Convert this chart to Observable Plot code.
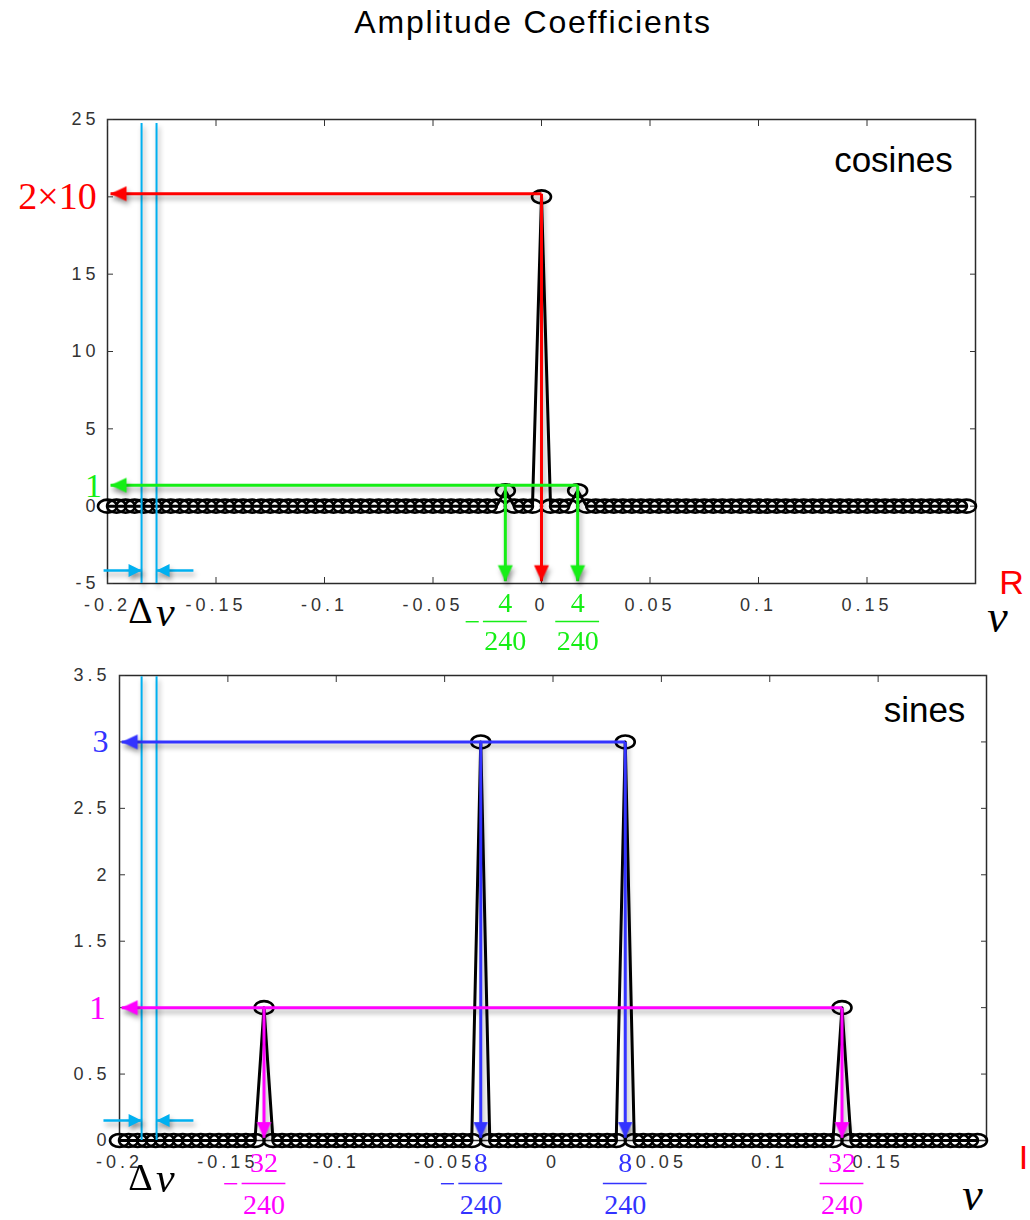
<!DOCTYPE html>
<html>
<head>
<meta charset="utf-8">
<script src="https://cdn.jsdelivr.net/npm/d3@7"></script>
<script src="https://cdn.jsdelivr.net/npm/@observablehq/plot@0.6"></script>
<style>
  body { margin: 0; background: #fff; }
  #wrap { position: relative; width: 1030px; height: 1220px; overflow: hidden; background: #fff; }
  #title { position: absolute; top: 6px; left: 18px; width: 1030px; text-align: center;
           font: 32px "Liberation Sans", Arial, sans-serif; letter-spacing: 1.8px; line-height: 32px; color: #000; }
  .panel { position: absolute; left: 0; }
  g[aria-label="x-axis tick label"] text, g[aria-label="y-axis tick label"] text { letter-spacing: 4px; font-size: 18px; }
  g[aria-description="annot"] { filter: drop-shadow(2px 4px 2.5px rgba(0,0,0,0.33)); }
</style>
</head>
<body>
<div id="wrap">
  <div id="title">Amplitude Coefficients</div>
  <div id="p1" class="panel" style="top:70px"></div>
  <div id="p2" class="panel" style="top:660px"></div>
</div>
<script>
// ---------- data ----------
const T = 240;                          // record length: frequencies are k / T
const kIndex = d3.range(-48, 48);       // harmonic index k = -48 ... 47
const cosAmp = [
  0,0,0,0,0,0,0,0,0,0,0,0,
  0,0,0,0,0,0,0,0,0,0,0,0,
  0,0,0,0,0,0,0,0,0,0,0,0,
  0,0,0,0,0,0,0,0,1,0,0,0,
  20,0,0,0,1,0,0,0,0,0,0,0,
  0,0,0,0,0,0,0,0,0,0,0,0,
  0,0,0,0,0,0,0,0,0,0,0,0,
  0,0,0,0,0,0,0,0,0,0,0,0
];
const sinAmp = [
  0,0,0,0,0,0,0,0,0,0,0,0,
  0,0,0,0,1,0,0,0,0,0,0,0,
  0,0,0,0,0,0,0,0,0,0,0,0,
  0,0,0,0,3,0,0,0,0,0,0,0,
  0,0,0,0,0,0,0,0,3,0,0,0,
  0,0,0,0,0,0,0,0,0,0,0,0,
  0,0,0,0,0,0,0,0,1,0,0,0,
  0,0,0,0,0,0,0,0,0,0,0,0
];
const xTicks = [-0.2, -0.15, -0.1, -0.05, 0, 0.05, 0.1, 0.15];
const cosYTicks = [-5, 0, 5, 10, 15, 20, 25];
const cosYLabels = [-5, 0, 5, 10, 15, 25];
const sinYTicks = [0, 0.5, 1, 1.5, 2, 2.5, 3, 3.5];
const sinYLabels = [0, 0.5, 1.5, 2, 2.5, 3.5];

// ---------- annotations ----------
const RED = "#ff0000", GREEN = "#16ee16", BLUE = "#3333ff", MAGENTA = "#ff00ff", CYAN = "#00b0f0";

const cosArrows = [
  {x1: 0, y1: 20.2, x2: -0.1986, y2: 20.2, color: RED, dir: "left"},
  {x1: 0, y1: 20.2, x2: 0, y2: -4.85, color: RED, dir: "down"},
  {x1: 4 / T, y1: 1.35, x2: -0.1986, y2: 1.35, color: GREEN, dir: "left"},
  {x1: -4 / T, y1: 1.35, x2: -4 / T, y2: -4.85, color: GREEN, dir: "down"},
  {x1: 4 / T, y1: 1.35, x2: 4 / T, y2: -4.85, color: GREEN, dir: "down"}
];
const sinArrows = [
  {x1: 8 / T, y1: 3, x2: -0.199, y2: 3, color: BLUE, dir: "left"},
  {x1: -8 / T, y1: 3, x2: -8 / T, y2: 0.02, color: BLUE, dir: "down"},
  {x1: 8 / T, y1: 3, x2: 8 / T, y2: 0.02, color: BLUE, dir: "down"},
  {x1: 32 / T, y1: 1, x2: -0.199, y2: 1, color: MAGENTA, dir: "left"},
  {x1: -32 / T, y1: 1, x2: -32 / T, y2: 0.02, color: MAGENTA, dir: "down"},
  {x1: 32 / T, y1: 1, x2: 32 / T, y2: 0.02, color: MAGENTA, dir: "down"}
];
const cosCyanLines = [{x: -0.1843, y1: 24.74, y2: -5}, {x: -0.1774, y1: 24.74, y2: -5}];
const cosCyanArrows = [
  {x1: -0.2018, y1: -4.16, x2: -0.1843, y2: -4.16, dir: "right"},
  {x1: -0.1604, y1: -4.16, x2: -0.1774, y2: -4.16, dir: "left"}
];
const sinCyanLines = [{x: -0.1898, y1: 3.49, y2: 0}, {x: -0.1829, y1: 3.49, y2: 0}];
const sinCyanArrows = [
  {x1: -0.2074, y1: 0.151, x2: -0.1898, y2: 0.151, dir: "right"},
  {x1: -0.1659, y1: 0.151, x2: -0.1829, y2: 0.151, dir: "left"}
];

const SERIF = "Liberation Serif, Times New Roman, serif";
const SANS = "Liberation Sans, Arial, sans-serif";
const cosTexts = [
  {x: -0.223, y: 20.0, text: "2×10", color: RED, size: 38, font: SERIF},
  {x: -0.2065, y: 1.3, text: "1", color: GREEN, size: 34, font: SERIF},
  {x: 0.1622, y: 22.35, text: "cosines", color: "#000", size: 35, font: SANS},
  {x: -0.1848, y: -6.75, text: "Δ", color: "#000", size: 38, font: SERIF},
  {x: -0.1733, y: -6.9, text: "ν", color: "#000", size: 42, font: SERIF, italic: true},
  {x: 0.2101, y: -7.2, text: "ν", color: "#000", size: 46, font: SERIF, italic: true},
  {x: 0.2166, y: -5.0, text: "R", color: RED, size: 34, font: SANS}
];
const sinTexts = [
  {x: -0.2088, y: 3.0, text: "3", color: BLUE, size: 32, font: SERIF},
  {x: -0.2102, y: 1.0, text: "1", color: MAGENTA, size: 34, font: SERIF},
  {x: 0.1714, y: 3.237, text: "sines", color: "#000", size: 35, font: SANS},
  {x: -0.1903, y: -0.278, text: "Δ", color: "#000", size: 38, font: SERIF},
  {x: -0.1788, y: -0.29, text: "ν", color: "#000", size: 42, font: SERIF, italic: true},
  {x: 0.1935, y: -0.414, text: "ν", color: "#000", size: 46, font: SERIF, italic: true},
  {x: 0.2171, y: -0.135, text: "I", color: RED, size: 34, font: SANS}
];
const cosFracs = [{k: -4, color: GREEN}, {k: 4, color: GREEN}];
const sinFracs = [{k: -32, color: MAGENTA}, {k: -8, color: BLUE}, {k: 8, color: BLUE}, {k: 32, color: MAGENTA}];
const cosFracY = {num: -6.29, bar: -7.46, den: -8.75, half: 0.0101};
const sinFracY = {num: -0.173, bar: -0.324, den: -0.482, half: 0.0101};

// ---------- drawing ----------
const ellipse = {
  draw(ctx, size) {
    const r = Math.sqrt(size / Math.PI), rx = r * 1.46, ry = r * 1.0, c = 0.5523;
    ctx.moveTo(rx, 0);
    ctx.bezierCurveTo(rx, c * ry, c * rx, ry, 0, ry);
    ctx.bezierCurveTo(-c * rx, ry, -rx, c * ry, -rx, 0);
    ctx.bezierCurveTo(-rx, -c * ry, -c * rx, -ry, 0, -ry);
    ctx.bezierCurveTo(c * rx, -ry, rx, -c * ry, rx, 0);
    ctx.closePath();
  }
};
const head = (L, W) => ({
  draw(ctx) { ctx.moveTo(0, 0); ctx.lineTo(-W / 2, L); ctx.lineTo(W / 2, L); ctx.closePath(); }
});
const ROT = {left: -90, right: 90, down: 180, up: 0};
const fmt = d => String(d);

function panel(o) {
  const data = kIndex.map((k, i) => ({nu: k / T, amp: o.amp[i]}));
  const marks = [
    Plot.frame({stroke: "#2a2a2a", strokeWidth: 1.5}),
    Plot.axisX({anchor: "bottom", ticks: xTicks, tickSize: 0, tickPadding: 15, tickFormat: fmt, fontSize: 18, fill: "#333", label: null}),
    Plot.axisX({anchor: "bottom", ticks: xTicks, tickSize: 6, dy: -6, tickFormat: () => "", stroke: "#333", label: null}),
    Plot.axisX({anchor: "top", ticks: xTicks, tickSize: 6, dy: 6, tickFormat: () => "", stroke: "#333", label: null}),
    Plot.axisY({anchor: "left", ticks: o.yLabels, tickSize: 0, tickPadding: o.yPad, tickFormat: fmt, fontSize: 18, fill: "#333", label: null}),
    Plot.axisY({anchor: "left", ticks: o.yTicks, tickSize: 6, dx: 6, tickFormat: () => "", stroke: "#333", label: null}),
    Plot.axisY({anchor: "right", ticks: o.yTicks, tickSize: 6, dx: -6, tickFormat: () => "", stroke: "#333", label: null}),
    Plot.line(data, {x: "nu", y: "amp", stroke: "#000", strokeWidth: 3}),
    Plot.dot(data, {x: "nu", y: "amp", symbol: ellipse, r: 6.5, stroke: "#000", strokeWidth: 2.6, fill: "none"}),
    // cyan Δν markers
    Plot.ruleX(o.cyanLines, {x: "x", y1: "y1", y2: "y2", stroke: CYAN, strokeWidth: 2, ariaDescription: "annot"}),
    Plot.link(o.cyanArrows, {x1: "x1", y1: "y1", x2: "x2", y2: "y2", stroke: CYAN, strokeWidth: 2.5, ariaDescription: "annot"}),
    Plot.dot(o.cyanArrows, {x: "x2", y: "y2", symbol: head(13, 13), rotate: d => ROT[d.dir], fill: CYAN, stroke: "none", ariaDescription: "annot"}),
    // coloured amplitude arrows
    Plot.link(o.arrows, {x1: "x1", y1: "y1", x2: "x2", y2: "y2", stroke: "color", strokeWidth: 3, ariaDescription: "annot"}),
    Plot.dot(o.arrows, {x: "x2", y: "y2", symbol: head(16, 15), rotate: d => ROT[d.dir], fill: "color", stroke: "none", ariaDescription: "annot"}),
    // fraction labels k / T
    Plot.text(o.fracs, {x: d => d.k / T, y: () => o.fracY.num, text: d => String(Math.abs(d.k)), fill: "color", fontSize: 28, fontFamily: SERIF}),
    Plot.ruleY(o.fracs, {y: () => o.fracY.bar, x1: d => d.k / T - o.fracY.half, x2: d => d.k / T + o.fracY.half, stroke: "color", strokeWidth: 1.6}),
    Plot.text(o.fracs, {x: d => d.k / T, y: () => o.fracY.den, text: () => String(T), fill: "color", fontSize: 28, fontFamily: SERIF}),
    Plot.text(o.fracs.filter(d => d.k < 0), {x: d => d.k / T, y: () => o.fracY.bar, text: () => "−", dx: -33, fill: "color", fontSize: 28, fontFamily: SERIF}),
    ...o.texts.map(t => Plot.text([t], {x: "x", y: "y", text: "text", fill: t.color, fontSize: t.size, fontFamily: t.font, fontStyle: t.italic ? "italic" : "normal", textAnchor: "middle"}))
  ];
  return Plot.plot({
    width: 1030, height: o.height,
    marginTop: o.mt, marginBottom: o.mb, marginLeft: o.ml, marginRight: o.mr,
    x: {domain: [-0.2, 0.2], label: null},
    y: {domain: o.yDomain, label: null},
    color: {type: "identity"},
    style: {fontFamily: SANS, background: "white", overflow: "visible"},
    marks
  });
}

document.getElementById("p1").appendChild(panel({
  amp: cosAmp, yDomain: [-5, 25], yTicks: cosYTicks, yLabels: cosYLabels, yPad: 8,
  height: 590, mt: 49, mb: 77, ml: 107, mr: 55,
  arrows: cosArrows, cyanLines: cosCyanLines, cyanArrows: cosCyanArrows,
  texts: cosTexts, fracs: cosFracs, fracY: cosFracY
}));
document.getElementById("p2").appendChild(panel({
  amp: sinAmp, yDomain: [0, 3.5], yTicks: sinYTicks, yLabels: sinYLabels, yPad: 9,
  height: 560, mt: 15, mb: 80, ml: 119, mr: 44,
  arrows: sinArrows, cyanLines: sinCyanLines, cyanArrows: sinCyanArrows,
  texts: sinTexts, fracs: sinFracs, fracY: sinFracY
}));
</script>
</body>
</html>
